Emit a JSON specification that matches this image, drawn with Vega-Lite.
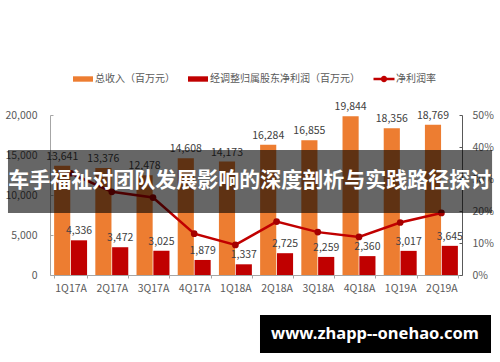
{
  "$schema": "https://vega.github.io/schema/vega-lite/v6.json",
  "autosize": "none",
  "width": 412,
  "height": 160,
  "padding": {"left": 50, "top": 115, "right": 38, "bottom": 87},
  "background": "white",
  "config": {
    "view": {"stroke": null},
    "font": "Noto Sans CJK SC",
    "axis": {"labelFont": "Noto Sans CJK SC", "grid": false, "title": null}
  },
  "datasets": {
    "bars": [
      {"q": "1Q17A", "series": "总收入（百万元）", "value": 13641},
      {"q": "1Q17A", "series": "经调整归属股东净利润（百万元）", "value": 4336},
      {"q": "2Q17A", "series": "总收入（百万元）", "value": 13376},
      {"q": "2Q17A", "series": "经调整归属股东净利润（百万元）", "value": 3472},
      {"q": "3Q17A", "series": "总收入（百万元）", "value": 12478},
      {"q": "3Q17A", "series": "经调整归属股东净利润（百万元）", "value": 3025},
      {"q": "4Q17A", "series": "总收入（百万元）", "value": 14608},
      {"q": "4Q17A", "series": "经调整归属股东净利润（百万元）", "value": 1879},
      {"q": "1Q18A", "series": "总收入（百万元）", "value": 14173},
      {"q": "1Q18A", "series": "经调整归属股东净利润（百万元）", "value": 1337},
      {"q": "2Q18A", "series": "总收入（百万元）", "value": 16284},
      {"q": "2Q18A", "series": "经调整归属股东净利润（百万元）", "value": 2725},
      {"q": "3Q18A", "series": "总收入（百万元）", "value": 16855},
      {"q": "3Q18A", "series": "经调整归属股东净利润（百万元）", "value": 2259},
      {"q": "4Q18A", "series": "总收入（百万元）", "value": 19844},
      {"q": "4Q18A", "series": "经调整归属股东净利润（百万元）", "value": 2360},
      {"q": "1Q19A", "series": "总收入（百万元）", "value": 18356},
      {"q": "1Q19A", "series": "经调整归属股东净利润（百万元）", "value": 3017},
      {"q": "2Q19A", "series": "总收入（百万元）", "value": 18769},
      {"q": "2Q19A", "series": "经调整归属股东净利润（百万元）", "value": 3645}
    ],
    "margin": [
      {"q": "1Q17A", "margin": 0.318},
      {"q": "2Q17A", "margin": 0.260},
      {"q": "3Q17A", "margin": 0.242},
      {"q": "4Q17A", "margin": 0.129},
      {"q": "1Q18A", "margin": 0.094},
      {"q": "2Q18A", "margin": 0.167},
      {"q": "3Q18A", "margin": 0.134},
      {"q": "4Q18A", "margin": 0.119},
      {"q": "1Q19A", "margin": 0.164},
      {"q": "2Q19A", "margin": 0.194}
    ]
  },
  "layer": [
    {
      "data": {"name": "bars"},
      "mark": {"type": "bar"},
      "encoding": {
        "x": {
          "field": "q", "type": "nominal",
          "scale": {"type": "band", "domain": ["1Q17A","2Q17A","3Q17A","4Q17A","1Q18A","2Q18A","3Q18A","4Q18A","1Q19A","2Q19A"], "paddingInner": 0.2, "paddingOuter": 0.1},
          "axis": {"title": null, "labelAngle": 0, "labelFontSize": 10.5, "labelColor": "#595959", "domainColor": "#A6A6A6", "tickColor": "#A6A6A6", "tickSize": 3, "tickBand": "extent", "labelPadding": 5}
        },
        "xOffset": {"field": "series", "type": "nominal", "scale": {"domain": ["总收入（百万元）", "经调整归属股东净利润（百万元）"], "paddingInner": 0.04}},
        "y": {
          "field": "value", "type": "quantitative",
          "scale": {"domain": [0, 20000], "nice": false},
          "axis": {"title": null, "values": [0, 5000, 10000, 15000, 20000], "format": ",.0f", "labelFontSize": 10.5, "labelColor": "#595959", "domainColor": "#A6A6A6", "tickColor": "#A6A6A6", "tickSize": -3, "labelPadding": 16}
        },
        "color": {
          "field": "series", "type": "nominal",
          "scale": {"domain": ["总收入（百万元）", "经调整归属股东净利润（百万元）", "净利润率"], "range": ["#ED7D31", "#C00000", "#C00000"]},
          "legend": {
            "orient": "none", "legendX": 23, "legendY": -46, "direction": "horizontal", "title": null,
            "padding": 0,
            "labelFont": "Noto Sans CJK SC", "labelFontSize": 10, "labelColor": "#595959", "labelLimit": 300, "labelOffset": 2,
            "symbolSize": 400, "symbolType": "M-1,-0.27H1V0.27H-1Z", "symbolStrokeWidth": 0,
            "columnPadding": 13,
            "encode": {
              "symbols": {
                "update": {
                  "shape": {"signal": "datum.value === '净利润率' ? 'M-1.05,-0.12H1.05V0.12H-1.05Z M-0.32,0A0.32,0.32 0 1,1 0.32,0A0.32,0.32 0 1,1 -0.32,0Z' : 'M-1,-0.27H1V0.27H-1Z'"},
                  "fill": {"signal": "datum.value === '总收入（百万元）' ? '#ED7D31' : '#C00000'"},
                  "fillOpacity": {"value": 1},
                  "strokeWidth": {"value": 0}
                }
              }
            }
          }
        }
      }
    },
    {
      "data": {"name": "bars"},
      "mark": {"type": "text", "baseline": "bottom", "dy": -4, "fontSize": 10.5, "color": "#404040", "font": "Noto Sans CJK SC"},
      "encoding": {
        "x": {
          "field": "q", "type": "nominal",
          "scale": {"type": "band", "domain": ["1Q17A","2Q17A","3Q17A","4Q17A","1Q18A","2Q18A","3Q18A","4Q18A","1Q19A","2Q19A"], "paddingInner": 0.2, "paddingOuter": 0.1},
          "axis": null
        },
        "xOffset": {"field": "series", "type": "nominal", "scale": {"domain": ["总收入（百万元）", "经调整归属股东净利润（百万元）"], "paddingInner": 0.04}},
        "y": {"field": "value", "type": "quantitative", "scale": {"domain": [0, 20000], "nice": false}, "axis": null},
        "text": {"field": "value", "type": "quantitative", "format": ","}
      }
    },
    {
      "data": {"name": "margin"},
      "mark": {"type": "line", "strokeWidth": 2.5, "color": "#C00000"},
      "encoding": {
        "x": {"field": "q", "type": "nominal", "scale": {"domain": ["1Q17A","2Q17A","3Q17A","4Q17A","1Q18A","2Q18A","3Q18A","4Q18A","1Q19A","2Q19A"]}, "axis": null},
        "y": {
          "field": "margin", "type": "quantitative",
          "scale": {"domain": [0, 0.5], "nice": false},
          "axis": {"orient": "right", "title": null, "values": [0, 0.1, 0.2, 0.3, 0.4, 0.5], "format": ".0%", "labelFontSize": 10.5, "labelColor": "#595959", "domainColor": "#595959", "tickColor": "#595959", "tickSize": -3, "labelPadding": 13}
        }
      }
    },
    {
      "data": {"name": "margin"},
      "mark": {"type": "point", "filled": true, "size": 45, "color": "#A50000", "opacity": 1},
      "encoding": {
        "x": {"field": "q", "type": "nominal", "scale": {"domain": ["1Q17A","2Q17A","3Q17A","4Q17A","1Q18A","2Q18A","3Q18A","4Q18A","1Q19A","2Q19A"]}, "axis": null},
        "y": {"field": "margin", "type": "quantitative", "scale": {"domain": [0, 0.5], "nice": false}, "axis": null}
      }
    },
    {
      "data": {"values": [{"x1": -0.102, "x2": 1.073, "y1": 15625, "y2": 7750}]},
      "mark": {"type": "rect", "color": "#000000", "opacity": 0.6},
      "encoding": {
        "x": {"field": "x1", "type": "quantitative", "scale": {"domain": [0, 1], "nice": false, "zero": false}, "axis": null},
        "x2": {"field": "x2"},
        "y": {"field": "y1", "type": "quantitative", "scale": {"domain": [0, 20000], "nice": false}, "axis": null},
        "y2": {"field": "y2"}
      }
    },
    {
      "data": {"values": [{"x": 0.485, "y": 11750, "label": "车手福祉对团队发展影响的深度剖析与实践路径探讨"}]},
      "mark": {"type": "text", "color": "#FFFFFF", "fontSize": 21, "fontWeight": "bold", "font": "Noto Sans CJK SC", "align": "center", "baseline": "middle"},
      "encoding": {
        "x": {"field": "x", "type": "quantitative", "scale": {"domain": [0, 1], "nice": false, "zero": false}, "axis": null},
        "y": {"field": "y", "type": "quantitative", "scale": {"domain": [0, 20000], "nice": false}, "axis": null},
        "text": {"field": "label"}
      }
    },
    {
      "data": {"values": [{"x1": 0.5097, "x2": 1.0704, "y1": -5000, "y2": -9750}]},
      "mark": {"type": "rect", "color": "#000000", "opacity": 1},
      "encoding": {
        "x": {"field": "x1", "type": "quantitative", "scale": {"domain": [0, 1], "nice": false, "zero": false}, "axis": null},
        "x2": {"field": "x2"},
        "y": {"field": "y1", "type": "quantitative", "scale": {"domain": [0, 20000], "nice": false}, "axis": null},
        "y2": {"field": "y2"}
      }
    },
    {
      "data": {"values": [{"x": 0.7888, "y": -7375, "label": "www.zhapp--onehao.com"}]},
      "mark": {"type": "text", "color": "#FFFFFF", "fontSize": 16.5, "fontWeight": "bold", "font": "Noto Sans", "align": "center", "baseline": "middle"},
      "encoding": {
        "x": {"field": "x", "type": "quantitative", "scale": {"domain": [0, 1], "nice": false, "zero": false}, "axis": null},
        "y": {"field": "y", "type": "quantitative", "scale": {"domain": [0, 20000], "nice": false}, "axis": null},
        "text": {"field": "label"}
      }
    }
  ],
  "resolve": {"scale": {"x": "independent", "y": "independent"}}
}
